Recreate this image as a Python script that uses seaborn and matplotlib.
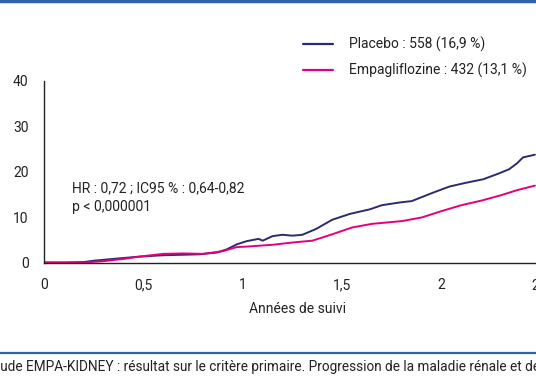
import numpy as np
import pandas as pd
import matplotlib
matplotlib.use('Agg')
import matplotlib.pyplot as plt
import seaborn as sns

# ── Data ──────────────────────────────────────────────────
placebo_x = [0, 0.10, 0.20, 0.25, 0.35, 0.48, 0.60, 0.78, 0.87, 0.92, 0.97, 1.02,
             1.08, 1.10, 1.15, 1.20, 1.25, 1.30, 1.37, 1.45, 1.54, 1.64, 1.70,
             1.79, 1.85, 1.96, 2.04, 2.12, 2.21, 2.29, 2.34, 2.38, 2.41, 2.47]
placebo_y = [0.1, 0.1, 0.2, 0.5, 0.9, 1.4, 1.7, 1.9, 2.3, 3.0, 4.1, 4.8,
             5.3, 4.9, 5.9, 6.2, 6.0, 6.2, 7.5, 9.5, 10.8, 11.8, 12.7,
             13.3, 13.6, 15.5, 16.8, 17.6, 18.4, 19.7, 20.6, 21.9, 23.2, 23.8]

empa_x = [0, 0.10, 0.20, 0.30, 0.40, 0.50, 0.60, 0.70, 0.80, 0.90, 0.97, 1.02,
          1.15, 1.25, 1.35, 1.45, 1.55, 1.65, 1.80, 1.90, 2.00, 2.10, 2.20,
          2.30, 2.38, 2.47]
empa_y = [0.1, 0.1, 0.1, 0.4, 0.9, 1.5, 2.0, 2.1, 2.0, 2.6, 3.5, 3.6,
          4.0, 4.5, 4.9, 6.3, 7.8, 8.6, 9.2, 10.0, 11.4, 12.7, 13.7,
          14.9, 16.0, 17.0]

legend_labels = ['Placebo : 558 (16,9 %)', 'Empagliflozine : 432 (13,1 %)']
xticks = [0, 0.5, 1, 1.5, 2, 2.5]
xtick_labels = ['0', '0,5', '1', '1,5', '2', '2,5']
yticks = [0, 10, 20, 30, 40]
colors = ['#2c2b6c', '#e4007c']

df = pd.concat([
    pd.DataFrame({'x': placebo_x, 'y': placebo_y, 'groupe': legend_labels[0]}),
    pd.DataFrame({'x': empa_x, 'y': empa_y, 'groupe': legend_labels[1]}),
])

sns.set_theme(style='white')
plt.rcParams['font.family'] = ['Roboto', 'DejaVu Sans']

fig = plt.figure(figsize=(5.36, 3.86), dpi=100)
ax = fig.add_axes([0.0821, 0.3187, 0.927, 0.4715])

sns.lineplot(data=df, x='x', y='y', hue='groupe', palette=colors,
             linewidth=1.4, ax=ax, legend=False, estimator=None, sort=False)

ax.set_xlim(0, 2.5)
ax.set_ylim(0, 40)
ax.set_xticks(xticks)
ax.set_xticklabels(xtick_labels)
ax.set_yticks(yticks)
ax.tick_params(axis='both', direction='out', length=5, width=1, color='#222222',
               labelsize=10, labelcolor='#222222', pad=6)
for s in ['top', 'right']:
    ax.spines[s].set_visible(False)
for s in ['left', 'bottom']:
    ax.spines[s].set_color('#222222')
    ax.spines[s].set_linewidth(1)
ax.set_xlabel('Années de suivi', fontsize=10, color='#222222')
ax.xaxis.set_label_coords(0.511, -0.215)
ax.set_ylabel('')

ax.text(0.14, 16.5, 'HR : 0,72 ; IC95 % : 0,64-0,82', fontsize=10, color='#222222', va='center')
ax.text(0.14, 12.2, 'p < 0,000001', fontsize=10, color='#222222', va='center')

# legend drawn in figure coords
for i, (lab, col) in enumerate(zip(legend_labels, colors)):
    yy = 1 - (44 + 26 * i) / 386
    fig.add_artist(plt.Line2D([303 / 536, 333 / 536], [yy, yy], color=col, lw=1.6))
    fig.text(349 / 536, yy, lab, fontsize=10, color='#222222', va='center')

# frame lines and caption
fig.add_artist(plt.Line2D([0, 1], [1 - 1 / 386, 1 - 1 / 386], color='#2f63a8', lw=2.5))
fig.add_artist(plt.Line2D([0, 1], [1 - 353 / 386, 1 - 353 / 386], color='#2f63a8', lw=1.6))
fig.text(-12 / 536, 1 - 366 / 386,
         'Étude EMPA-KIDNEY : résultat sur le critère primaire. Progression de la maladie rénale et décès cardiovasculaire.',
         fontsize=9.8, color='#222222', va='center')

fig.savefig('out.png', dpi=100, facecolor='white')
